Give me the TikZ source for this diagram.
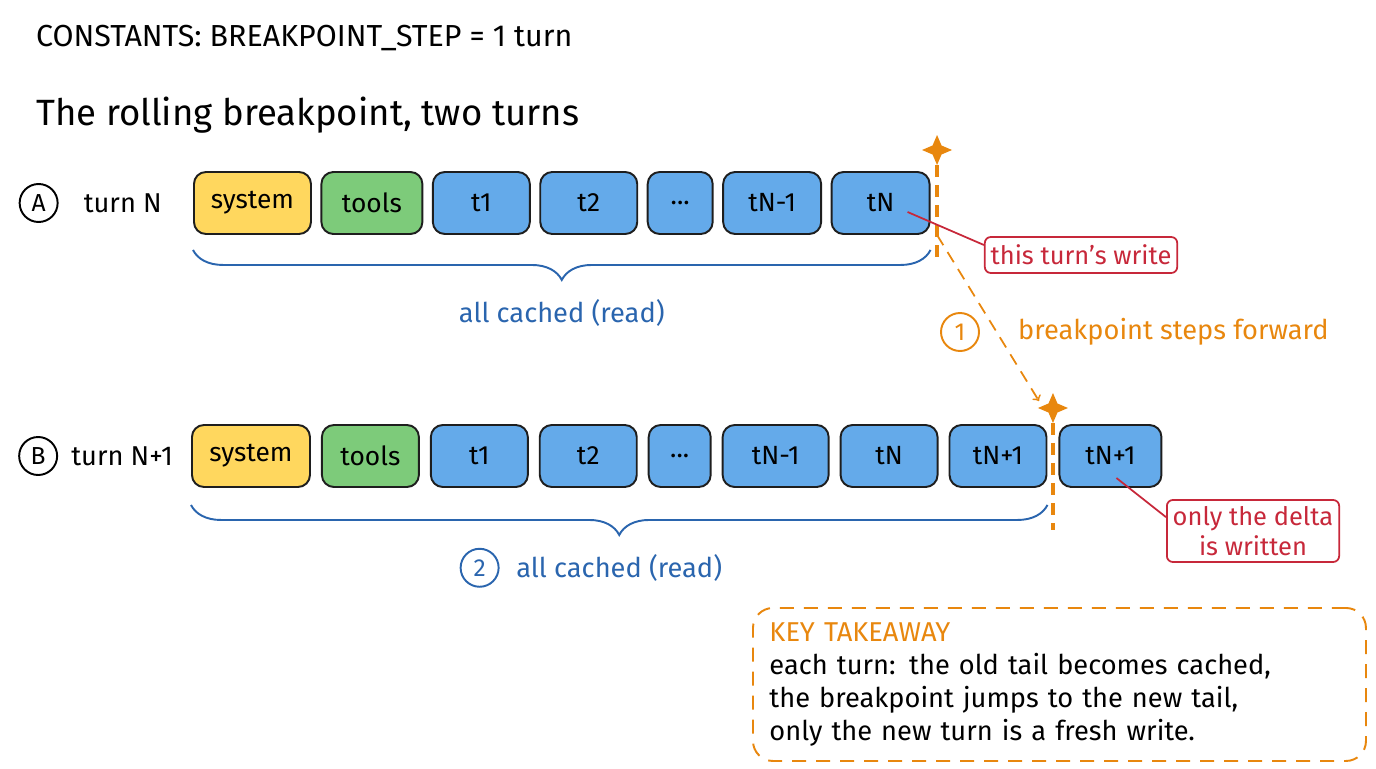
\documentclass[tikz,border=0pt]{standalone}
\usepackage{fontspec}
\setmainfont{Fira Sans}
\usetikzlibrary{decorations.pathreplacing}
\usetikzlibrary{positioning}
\usetikzlibrary{shapes}
\usetikzlibrary{calc}

\definecolor{sysyellow}{HTML}{FFD75E}
\definecolor{toolgreen}{HTML}{7DCB7A}
\definecolor{turnblue}{HTML}{64AAEA}
\definecolor{inkdark}{HTML}{1E1E1E}
\definecolor{cacheblue}{HTML}{2A65AE}
\definecolor{steporange}{HTML}{E8870E}
\definecolor{writered}{HTML}{C7283A}

% four-point breakpoint star round a named coordinate
\newcommand{\BreakStar}[1]{%
	\fill[steporange] ($(#1)+(0,0.3)$) -- ($(#1)+(0.09,0.09)$)
		-- ($(#1)+(0.3,0)$) -- ($(#1)+(0.09,-0.09)$)
		-- ($(#1)+(0,-0.3)$) -- ($(#1)+(-0.09,-0.09)$)
		-- ($(#1)+(-0.3,0)$) -- ($(#1)+(-0.09,0.09)$) -- cycle;}

\begin{document}
\begin{tikzpicture}

\useasboundingbox (0,0) rectangle (27.52,-15.36);

\def\BoxHeight{1.24cm}
\def\GapA{0.17cm}
\def\GapB{0.2cm}

% Styles
\tikzstyle{box} =
	[draw=inkdark, line width=1.1pt, rounded corners=0.24cm,
	 minimum height=\BoxHeight, inner sep=0pt, font=\fontsize{15}{18}\selectfont]

\tikzstyle{sys} =
	[box, fill=sysyellow, minimum width=2.34cm]

\tikzstyle{tool} =
	[box, fill=toolgreen, minimum width=2.02cm]

\tikzstyle{turnbox} =
	[box, fill=turnblue, minimum width=1.94cm]

\tikzstyle{label} =
	[font=\fontsize{15.5}{18}\selectfont]

\tikzstyle{numcircle} =
	[circle, draw, line width=1.1pt, minimum size=0.76cm, inner sep=0pt,
	 font=\fontsize{14}{17}\selectfont]

\tikzstyle{cachebrace} =
	[cacheblue, line width=1.1pt, decorate,
	 decoration={brace, mirror, amplitude=0.6cm}]

\tikzstyle{bpline} =
	[steporange, line width=2pt, dash pattern=on 0.24cm off 0.16cm]

\tikzstyle{note} =
	[draw=writered, text=writered, line width=1pt, rounded corners=0.12cm,
	 font=\fontsize{14.5}{17}\selectfont, align=center]

% Header
\node (Constants) at (0.6,-0.76) [anchor=west, font=\fontsize{17.3}{20}\selectfont]
	{CONSTANTS: BREAKPOINT\_STEP = 1 turn};
\node (Title) at (0.6,-2.3) [anchor=west, font=\fontsize{20.8}{25}\selectfont]
	{The rolling breakpoint, two turns};

% Turn N
\node (SysA) at (3.86,-4.06) [sys, anchor=west] {system};
\node (ToolsA) [tool, right=\GapA of SysA] {tools};
\node (TOneA) [turnbox, right=\GapA of ToolsA] {t1};
\node (TTwoA) [turnbox, right=\GapA of TOneA] {t2};
\node (DotsA) [turnbox, minimum width=1.30cm, right=\GapA of TTwoA] {...};
\node (TPrevA) [turnbox, minimum width=1.96cm, right=\GapA of DotsA] {tN-1};
\node (TLastA) [turnbox, minimum width=1.96cm, right=\GapA of TPrevA] {tN};

\node (TurnA) [label, left=0.5cm of SysA] {turn N};
\node (RowA) [numcircle, left=0.38cm of TurnA] {A};

% Turn N+1
\node (SysB) at (3.82,-9.12) [sys, minimum width=2.36cm, anchor=west] {system};
\node (ToolsB) [tool, minimum width=1.94cm, right=\GapB of SysB] {tools};
\node (TOneB) [turnbox, right=\GapB of ToolsB] {t1};
\node (TTwoB) [turnbox, right=\GapB of TOneB] {t2};
\node (DotsB) [turnbox, minimum width=1.24cm, right=\GapB of TTwoB] {...};
\node (TPrevB) [turnbox, minimum width=2.12cm, right=\GapB of DotsB] {tN-1};
\node (TLastB) [turnbox, right=\GapB of TPrevB] {tN};
\node (TNextB) [turnbox, right=\GapB of TLastB] {tN+1};
\node (TNewB) [turnbox, minimum width=2.04cm, right=0.22cm of TNextB] {tN+1};

\node (TurnB) [label, left=0.24cm of SysB] {turn N+1};
\node (RowB) [numcircle, left=0.14cm of TurnB] {B};

% Braces
\draw[cachebrace]
	($(SysA.south west)+(0,-0.3)$) -- ($(TLastA.south east)+(0,-0.3)$)
	node[midway, below=0.85cm, text=cacheblue, label] (CachedA) {all cached (read)};
\draw[cachebrace]
	($(SysB.south west)+(0,-0.34)$) -- ($(TNextB.south east)+(0,-0.34)$)
	node[midway, below=0.85cm, text=cacheblue, label] (CachedB) {all cached (read)};
\node (StepTwo) [numcircle, cacheblue, left=0.2cm of CachedB] {2};

% Breakpoints
\coordinate (StarA) at ($(TLastA.east |- 0,-3.0)+(0.13,0)$);
\coordinate (BreakEndA) at ($(StarA |- TLastA.south)+(0,-0.6)$);
\draw[bpline] ($(StarA)+(0,-0.3)$) -- (BreakEndA);
\BreakStar{StarA}

\coordinate (SplitB) at ($(TNextB.east)!0.5!(TNewB.west)$);
\coordinate (StarB) at (SplitB |- 0,-8.16);
\coordinate (BreakEndB) at ($(SplitB |- TNextB.south)+(0,-0.84)$);
\draw[bpline] ($(StarB)+(0,-0.3)$) -- (BreakEndB);
\BreakStar{StarB}

% Step forward
\draw[->, steporange, line width=1pt, dash pattern=on 0.24cm off 0.16cm]
	(StarA |- TLastA.south) -- ($(StarB)+(-0.28,0.14)$);
\node (StepOne) at (19.2,-6.64) [numcircle, steporange] {1};
\node (StepsLabel) [label, text=steporange, anchor=west, right=0.64cm of StepOne]
	{breakpoint steps forward};

% Notes
\node (ThisWrite) at (21.62,-5.1) [note, minimum width=3.76cm, minimum height=0.72cm]
	{this turn's write};
\draw[writered, line width=1pt]
	($(TLastA.center)+(0.54,-0.18)$) -- ($(ThisWrite.west)+(0,0.2)$);

\node (DeltaNote) at (25.06,-10.62) [note, minimum width=3.26cm, minimum height=1.24cm]
	{only the delta\\is written};
\draw[writered, line width=1pt]
	($(TNewB.center)+(0.12,-0.44)$) -- ($(DeltaNote.north west)+(0,-0.36)$);

% Takeaway
\node (Takeaway) at (15.04,-12.14)
	[anchor=north west, draw=steporange, line width=1.1pt,
	 dash pattern=on 0.28cm off 0.2cm, rounded corners=0.4cm,
	 minimum width=12.26cm, minimum height=3.06cm,
	 text width=11.6cm, align=left, inner xsep=0.32cm,
	 font=\fontsize{15.5}{18.7}\selectfont]
	{\textcolor{steporange}{KEY TAKEAWAY}\\
	 each turn: the old tail becomes cached,\\
	 the breakpoint jumps to the new tail,\\
	 only the new turn is a fresh write.};

\end{tikzpicture}
\end{document}
